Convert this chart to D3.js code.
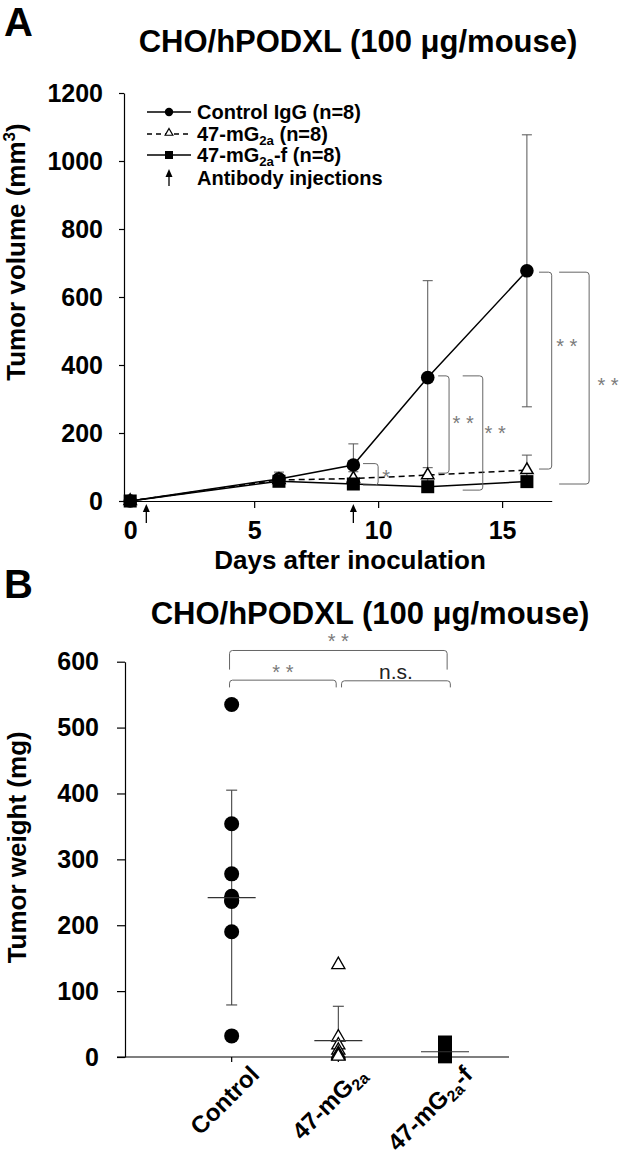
<!DOCTYPE html>
<html><head><meta charset="utf-8">
<script src="https://cdn.jsdelivr.net/npm/d3@7/dist/d3.min.js"></script>
<style>
body{margin:0;background:#fff}
svg{display:block}
text{font-family:"Liberation Sans",Arial,Helvetica,sans-serif}
</style>
</head><body>
<svg id="c" width="619" height="1167"></svg>
<script>
// ---------- Panel A data ----------
const days = [0, 6, 9, 12, 16];
const controlMean = [0, 65, 106, 363, 677];
const controlSD   = [0, 20, 62, 285, 400];
const mg2aMean    = [0, 62, 66, 76, 91];
const mg2aSD      = [0, 14, 20, 22, 44];
const mg2afMean   = [0, 58, 50, 42, 57];
const mg2afSD     = [0, 10, 12, 10, 15];
const injectionDays = [0.65, 9];
const yTicksA = [0, 200, 400, 600, 800, 1000, 1200];
const xTicksA = [0, 5, 10, 15];
// significance brackets A: [x0 day, x1 day, top value, bottom value, label, label day, label value]
const bracketsA = [
  [9.39, 10.0, 110, 47, "*", 10.32, 85],
  [12.42, 12.86, 368, 82, "* *", 13.43, 244],
  [13.41, 14.22, 368, 32, "* *", 14.72, 215],
  [16.49, 17.0, 673, 94, "* *", 17.61, 469],
  [17.3, 18.51, 673, 50, "* *", 19.27, 354]
];

// ---------- Panel B data ----------
const groupsB = ["Control", "47-mG2a", "47-mG2a-f"];
const controlWeights = [535, 354, 278, 244, 238, 236, 190, 32];
const mg2aWeights    = [140, 30, 18, 10, 5, 3, 2, 1];
const mg2afWeights   = [22, 16, 11, 7, 5, 3, 2, 1];
const meanB = [242, 25, 8];
const sdB   = [163, 52, 0];
const yTicksB = [0, 100, 200, 300, 400, 500, 600];
// brackets B: [x0 index, x1 index, top value, leg value, label, label value]
const bracketsB = [
  [-0.02, 2.02, 617, 588, "* *", 638],
  [-0.02, 0.98, 572, 561, "* *", 591],
  [1.03, 2.05, 571, 561, "n.s.", 585]
];

const svg = d3.select("#c");
const FONT = "'Liberation Sans',Arial,sans-serif";

function rich(t, parts, fs) {
  let prevSub = false;
  parts.forEach(([s, sub]) => {
    const ts = t.append("tspan").text(s);
    if (sub) { ts.attr("font-size", fs * 0.66).attr("dy", fs * 0.18); }
    else if (prevSub) { ts.attr("dy", -fs * 0.18); }
    prevSub = sub;
  });
}
function star(g, x, y, label, fs) {
  g.append("text").attr("x", x).attr("y", y + fs * 0.58)
    .attr("text-anchor", "middle").attr("font-size", fs)
    .attr("fill", "#7a7a7a").text(label);
}

// ================= PANEL A =================
const xA = d3.scaleLinear().domain([-0.25, 17]).range([124, 551.7]);
const yA = d3.scaleLinear().domain([0, 1200]).range([501, 93]);

svg.append("text").attr("x", 4).attr("y", 36).attr("font-size", 40)
  .attr("font-weight", "bold").text("A");
svg.append("text").attr("x", 358).attr("y", 52).attr("font-size", 31)
  .attr("font-weight", "bold").attr("text-anchor", "middle")
  .text("CHO/hPODXL (100 \u03bcg/mouse)");

const gA = svg.append("g");
const axYA = gA.append("g").attr("transform", `translate(${xA.range()[0]},0)`)
  .call(d3.axisLeft(yA).tickValues(yTicksA).tickFormat(d3.format("d")).tickSize(5).tickSizeOuter(0).tickPadding(16));
const axXA = gA.append("g").attr("transform", `translate(0,${yA(0)})`)
  .call(d3.axisBottom(xA).tickValues(xTicksA).tickFormat(d3.format("d")).tickSize(7).tickSizeOuter(0).tickPadding(13));
[axYA, axXA].forEach(a => {
  a.selectAll("path,line").attr("stroke", "#000").attr("stroke-width", 1.2);
  a.selectAll("text").attr("font-size", 25).attr("font-weight", "bold")
    .attr("fill", "#000").attr("font-family", FONT);
});
axXA.selectAll(".tick").filter(d => d === 0).select("line").remove();

gA.append("text").attr("transform", `translate(25,${(yA(1200) + yA(0)) / 2 - 45}) rotate(-90)`)
  .attr("text-anchor", "middle").attr("font-size", 26).attr("font-weight", "bold")
  .call(t => {
    t.append("tspan").text("Tumor volume (mm");
    t.append("tspan").text("3").attr("font-size", 17).attr("dy", -10);
    t.append("tspan").text(")").attr("dy", 10);
  });
gA.append("text").attr("x", 350).attr("y", 569).attr("text-anchor", "middle")
  .attr("font-size", 26).attr("font-weight", "bold").text("Days after inoculation");

// error bars
const seriesA = [
  {m: controlMean, s: controlSD},
  {m: mg2aMean, s: mg2aSD},
  {m: mg2afMean, s: mg2afSD}
];
const eb = gA.append("g").attr("stroke", "#555").attr("stroke-width", 1).attr("fill", "none");
seriesA.forEach(se => {
  days.forEach((d, i) => {
    if (se.s[i] <= 0) return;
    const x = xA(d), y1 = yA(se.m[i] + se.s[i]), y0 = yA(Math.max(0, se.m[i] - se.s[i]));
    eb.append("line").attr("x1", x).attr("x2", x).attr("y1", y1).attr("y2", y0);
    eb.append("line").attr("x1", x - 5).attr("x2", x + 5).attr("y1", y1).attr("y2", y1);
    if (se.m[i] - se.s[i] > 0)
      eb.append("line").attr("x1", x - 5).attr("x2", x + 5).attr("y1", y0).attr("y2", y0);
  });
});

// lines
const lineGen = arr => d3.line().x((d, i) => xA(days[i])).y(d => yA(d))(arr);
gA.append("path").attr("d", lineGen(mg2afMean)).attr("fill", "none").attr("stroke", "#000").attr("stroke-width", 1.5);
gA.append("path").attr("d", lineGen(mg2aMean)).attr("fill", "none").attr("stroke", "#000").attr("stroke-width", 1.5).attr("stroke-dasharray", "6,4");
gA.append("path").attr("d", lineGen(controlMean)).attr("fill", "none").attr("stroke", "#000").attr("stroke-width", 1.5);

// markers: circles, triangles, then squares on top
days.forEach((d, i) => {
  gA.append("circle").attr("cx", xA(d)).attr("cy", yA(controlMean[i])).attr("r", 6.8).attr("fill", "#000");
});
const tri = d3.symbol(d3.symbolTriangle, 66);
days.forEach((d, i) => {
  gA.append("path").attr("d", tri()).attr("transform", `translate(${xA(d)},${yA(mg2aMean[i])})`)
    .attr("fill", "#fff").attr("stroke", "#000").attr("stroke-width", 1.5);
});
days.forEach((d, i) => {
  gA.append("rect").attr("x", xA(d) - 6.5).attr("y", yA(mg2afMean[i]) - 6.5)
    .attr("width", 13).attr("height", 13).attr("fill", "#000");
});

// injection arrows
function arrow(g, x, yBottom, yTop) {
  g.append("line").attr("x1", x).attr("x2", x).attr("y1", yBottom).attr("y2", yTop + 6)
    .attr("stroke", "#000").attr("stroke-width", 1.3);
  g.append("path").attr("d", `M${x},${yTop} L${x - 3.5},${yTop + 8} L${x + 3.5},${yTop + 8} Z`).attr("fill", "#000");
}
injectionDays.forEach(d => arrow(gA, xA(d), yA(0) + 22, yA(0) + 3));

// brackets A
const br = gA.append("g").attr("fill", "none").attr("stroke", "#666").attr("stroke-width", 1);
bracketsA.forEach(([d0, d1, top, bot, lab, ld, lv]) => {
  const x0 = xA(d0), x1 = xA(d1), y0 = yA(top), y1 = yA(bot), r = 3;
  br.append("path").attr("d",
    `M${x0},${y0} L${x1 - r},${y0} Q${x1},${y0} ${x1},${y0 + r} L${x1},${y1 - r} Q${x1},${y1} ${x1 - r},${y1} L${x0},${y1}`);
  star(gA, xA(ld), yA(lv), lab, 20);
});

// legend
const lg = gA.append("g");
const legRows = [112, 134, 155, 178];
const lx0 = 147, lx1 = 191, lxm = 169, ltx = 197, lfs = 20;
lg.append("line").attr("x1", lx0).attr("x2", lx1).attr("y1", legRows[0]).attr("y2", legRows[0]).attr("stroke", "#000").attr("stroke-width", 1.5);
lg.append("circle").attr("cx", lxm).attr("cy", legRows[0]).attr("r", 4.2).attr("fill", "#000");
lg.append("line").attr("x1", lx0).attr("x2", lx1).attr("y1", legRows[1]).attr("y2", legRows[1]).attr("stroke", "#000").attr("stroke-width", 1.5).attr("stroke-dasharray", "5,4");
lg.append("path").attr("d", d3.symbol(d3.symbolTriangle, 26)()).attr("transform", `translate(${lxm},${legRows[1] - 1})`).attr("fill", "#fff").attr("stroke", "#000").attr("stroke-width", 1.2);
lg.append("line").attr("x1", lx0).attr("x2", lx1).attr("y1", legRows[2]).attr("y2", legRows[2]).attr("stroke", "#000").attr("stroke-width", 1.5);
lg.append("rect").attr("x", lxm - 4).attr("y", legRows[2] - 4).attr("width", 8).attr("height", 8).attr("fill", "#000");
arrow(lg, lxm, legRows[3] + 8, legRows[3] - 9);
const legTexts = [
  [["Control IgG (n=8)", false]],
  [["47-mG", false], ["2a", true], [" (n=8)", false]],
  [["47-mG", false], ["2a", true], ["-f (n=8)", false]],
  [["Antibody injections", false]]
];
legTexts.forEach((p, i) => {
  const t = lg.append("text").attr("x", ltx).attr("y", legRows[i] + 7).attr("font-size", lfs).attr("font-weight", "bold");
  rich(t, p, lfs);
});

// ================= PANEL B =================
const xB = d3.scaleLinear().domain([-1, 2.6]).range([125, 509]);
const yB = d3.scaleLinear().domain([0, 600]).range([1057, 661.7]);

svg.append("text").attr("x", 4).attr("y", 598).attr("font-size", 40)
  .attr("font-weight", "bold").text("B");
svg.append("text").attr("x", 370).attr("y", 624).attr("font-size", 31)
  .attr("font-weight", "bold").attr("text-anchor", "middle")
  .text("CHO/hPODXL (100 \u03bcg/mouse)");

const gB = svg.append("g");
const axYB = gB.append("g").attr("transform", `translate(${xB(-1)},0)`)
  .call(d3.axisLeft(yB).tickValues(yTicksB).tickFormat(d3.format("d")).tickSize(8).tickSizeOuter(0).tickPadding(18));
axYB.selectAll("path,line").attr("stroke", "#000").attr("stroke-width", 1.2);
axYB.selectAll("text").attr("font-size", 25).attr("font-weight", "bold").attr("fill", "#000").attr("font-family", FONT);

gB.append("line").attr("x1", xB(-1) - 8).attr("x2", xB(2.6)).attr("y1", yB(0)).attr("y2", yB(0))
  .attr("stroke", "#000").attr("stroke-width", 1.2);
groupsB.forEach((g, i) => {
  gB.append("line").attr("x1", xB(i)).attr("x2", xB(i)).attr("y1", yB(0)).attr("y2", yB(0) + 5)
    .attr("stroke", "#000").attr("stroke-width", 1.2);
});
const xLabParts = [
  [["Control", false]],
  [["47-mG", false], ["2a", true]],
  [["47-mG", false], ["2a", true], ["-f", false]]
];
xLabParts.forEach((p, i) => {
  const t = gB.append("text").attr("text-anchor", "end").attr("font-size", 24).attr("font-weight", "bold")
    .attr("transform", `translate(${xB(i) + 29},${yB(0) + 19}) rotate(-45)`);
  rich(t, p, 24);
});

gB.append("text").attr("transform", `translate(26,${(yB(600) + yB(0)) / 2 - 12}) rotate(-90)`)
  .attr("text-anchor", "middle").attr("font-size", 26).attr("font-weight", "bold").text("Tumor weight (mg)");

const ebB = gB.append("g").attr("stroke", "#444").attr("stroke-width", 1.1);
meanB.forEach((m, i) => {
  const x = xB(i);
  if (sdB[i] > 0) {
    const yt = yB(m + sdB[i]), yb = yB(Math.max(0, m - sdB[i]));
    ebB.append("line").attr("x1", x).attr("x2", x).attr("y1", yt).attr("y2", yb);
    ebB.append("line").attr("x1", x - 5.5).attr("x2", x + 5.5).attr("y1", yt).attr("y2", yt);
    if (m - sdB[i] > 0) ebB.append("line").attr("x1", x - 5.5).attr("x2", x + 5.5).attr("y1", yb).attr("y2", yb);
  }
});
controlWeights.forEach(v => gB.append("circle").attr("cx", xB(0)).attr("cy", yB(v)).attr("r", 7.5).attr("fill", "#000"));
const triB = d3.symbol(d3.symbolTriangle, 75);
mg2aWeights.forEach(v => gB.append("path").attr("d", triB()).attr("transform", `translate(${xB(1)},${yB(v)})`)
  .attr("fill", "#fff").attr("stroke", "#000").attr("stroke-width", 1.3));
mg2afWeights.forEach(v => gB.append("rect").attr("x", xB(2) - 7).attr("y", yB(v) - 7).attr("width", 14).attr("height", 14).attr("fill", "#000"));
meanB.forEach((m, i) => {
  gB.append("line").attr("x1", xB(i) - 24).attr("x2", xB(i) + 24).attr("y1", yB(m)).attr("y2", yB(m))
    .attr("stroke", "#333").attr("stroke-width", 1.2);
});

const brB = gB.append("g").attr("fill", "none").attr("stroke", "#666").attr("stroke-width", 1);
bracketsB.forEach(([i0, i1, top, leg, lab, lv]) => {
  const x0 = xB(i0), x1 = xB(i1), y0 = yB(top), y1 = yB(leg), r = 3;
  brB.append("path").attr("d",
    `M${x0},${y1} L${x0},${y0 + r} Q${x0},${y0} ${x0 + r},${y0} L${x1 - r},${y0} Q${x1},${y0} ${x1},${y0 + r} L${x1},${y1}`);
  const cx = (x0 + x1) / 2;
  if (lab === "n.s.") {
    gB.append("text").attr("x", cx).attr("y", yB(lv) + 7).attr("text-anchor", "middle")
      .attr("font-size", 21).attr("fill", "#222").text(lab);
  } else {
    star(gB, cx, yB(lv), lab, 20);
  }
});
</script>
</body></html>
